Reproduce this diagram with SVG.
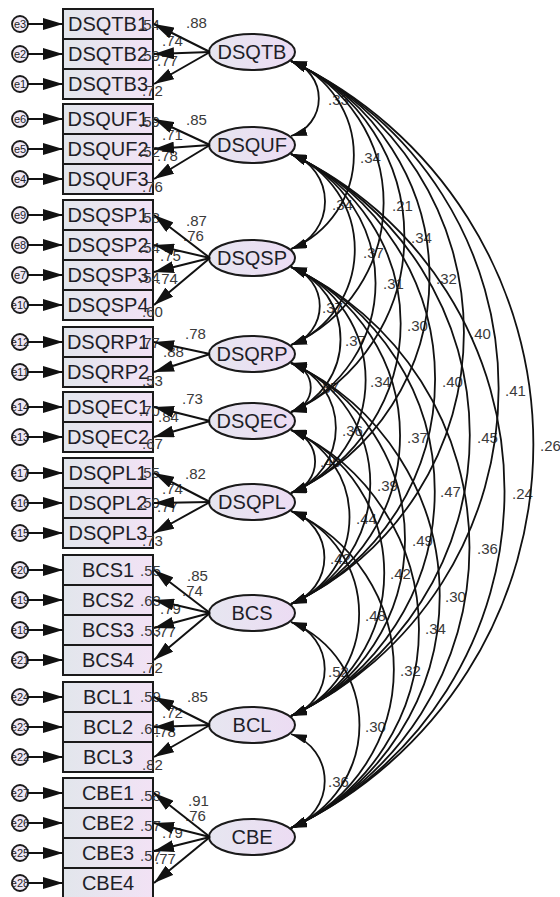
<svg xmlns="http://www.w3.org/2000/svg" width="560" height="897" viewBox="0 0 560 897">
<style>
.box{fill:url(#gb);stroke:#1a1a1a;stroke-width:2}
.lat{fill:url(#gl);stroke:#1a1a1a;stroke-width:2}
.err{fill:#efe8f4;stroke:#1a1a1a;stroke-width:1.8}
.t{font-family:"Liberation Sans",Arial,sans-serif;font-size:20px;fill:#1e1e28;text-anchor:middle}
.et{font-family:"Liberation Sans",Arial,sans-serif;font-size:11px;fill:#1e1e28;text-anchor:middle}
.n{font-family:"Liberation Sans",Arial,sans-serif;font-size:15px;fill:#3a3a3a}
.ar{stroke:#111;stroke-width:2;fill:none;marker-end:url(#ah)}
.cv{stroke:#111;stroke-width:1.8;fill:none;marker-start:url(#ahc);marker-end:url(#ahc)}
</style>
<defs>
<linearGradient id="gb" x1="0" y1="0" x2="1" y2="0"><stop offset="0" stop-color="#e2e6ec"/><stop offset="1" stop-color="#f2e2f5"/></linearGradient>
<linearGradient id="gl" x1="0" y1="0" x2="1" y2="0"><stop offset="0" stop-color="#e6e6f0"/><stop offset="1" stop-color="#ecdcf3"/></linearGradient>
<marker id="ah" viewBox="0 0 20 12" refX="20" refY="6" markerWidth="20" markerHeight="12" markerUnits="userSpaceOnUse" orient="auto"><path d="M0,0 L20,6 L0,12 z" fill="#111"/></marker>
<marker id="ahc" viewBox="0 0 16 9" refX="16" refY="4.5" markerWidth="16" markerHeight="9" markerUnits="userSpaceOnUse" orient="auto-start-reverse"><path d="M0,0 L16,4.5 L0,9 z" fill="#111"/></marker>
</defs>
<rect width="560" height="897" fill="#fff"/>

<!-- error terms -->
<g id="e3"><circle class="err" cx="20" cy="24" r="8"/><text class="et" x="20" y="28">e3</text></g>
<g id="e2"><circle class="err" cx="20" cy="54" r="8"/><text class="et" x="20" y="58">e2</text></g>
<g id="e1"><circle class="err" cx="20" cy="84" r="8"/><text class="et" x="20" y="88">e1</text></g>
<g id="e6"><circle class="err" cx="20" cy="119" r="8"/><text class="et" x="20" y="123">e6</text></g>
<g id="e5"><circle class="err" cx="20" cy="149" r="8"/><text class="et" x="20" y="153">e5</text></g>
<g id="e4"><circle class="err" cx="20" cy="179" r="8"/><text class="et" x="20" y="183">e4</text></g>
<g id="e9"><circle class="err" cx="20" cy="215" r="8"/><text class="et" x="20" y="219">e9</text></g>
<g id="e8"><circle class="err" cx="20" cy="245" r="8"/><text class="et" x="20" y="249">e8</text></g>
<g id="e7"><circle class="err" cx="20" cy="275" r="8"/><text class="et" x="20" y="279">e7</text></g>
<g id="e10"><circle class="err" cx="20" cy="305" r="8"/><text class="et" x="20" y="309">e10</text></g>
<g id="e12"><circle class="err" cx="20" cy="342" r="8"/><text class="et" x="20" y="346">e12</text></g>
<g id="e11"><circle class="err" cx="20" cy="372" r="8"/><text class="et" x="20" y="376">e11</text></g>
<g id="e14"><circle class="err" cx="20" cy="407" r="8"/><text class="et" x="20" y="411">e14</text></g>
<g id="e13"><circle class="err" cx="20" cy="437" r="8"/><text class="et" x="20" y="441">e13</text></g>
<g id="e17"><circle class="err" cx="20" cy="473" r="8"/><text class="et" x="20" y="477">e17</text></g>
<g id="e16"><circle class="err" cx="20" cy="503" r="8"/><text class="et" x="20" y="507">e16</text></g>
<g id="e15"><circle class="err" cx="20" cy="533" r="8"/><text class="et" x="20" y="537">e15</text></g>
<g id="e20"><circle class="err" cx="20" cy="570" r="8"/><text class="et" x="20" y="574">e20</text></g>
<g id="e19"><circle class="err" cx="20" cy="600" r="8"/><text class="et" x="20" y="604">e19</text></g>
<g id="e18"><circle class="err" cx="20" cy="630" r="8"/><text class="et" x="20" y="634">e18</text></g>
<g id="e21"><circle class="err" cx="20" cy="660" r="8"/><text class="et" x="20" y="664">e21</text></g>
<g id="e24"><circle class="err" cx="20" cy="697" r="8"/><text class="et" x="20" y="701">e24</text></g>
<g id="e23"><circle class="err" cx="20" cy="727" r="8"/><text class="et" x="20" y="731">e23</text></g>
<g id="e22"><circle class="err" cx="20" cy="757" r="8"/><text class="et" x="20" y="761">e22</text></g>
<g id="e27"><circle class="err" cx="20" cy="793" r="8"/><text class="et" x="20" y="797">e27</text></g>
<g id="e26"><circle class="err" cx="20" cy="823" r="8"/><text class="et" x="20" y="827">e26</text></g>
<g id="e25"><circle class="err" cx="20" cy="853" r="8"/><text class="et" x="20" y="857">e25</text></g>
<g id="e28"><circle class="err" cx="20" cy="883" r="8"/><text class="et" x="20" y="887">e28</text></g>

<!-- indicators -->
<g id="DSQTB1"><rect class="box" x="63" y="9" width="90" height="30"/><text class="t" x="108" y="31">DSQTB1</text><text class="n" x="139" y="30">.54</text></g>
<g id="DSQTB2"><rect class="box" x="63" y="39" width="90" height="30"/><text class="t" x="108" y="61">DSQTB2</text><text class="n" x="139" y="61">.59</text></g>
<g id="DSQTB3"><rect class="box" x="63" y="69" width="90" height="30"/><text class="t" x="108" y="91">DSQTB3</text><text class="n" x="142" y="96">.72</text></g>
<g id="DSQUF1"><rect class="box" x="63" y="104" width="90" height="30"/><text class="t" x="108" y="126">DSQUF1</text><text class="n" x="139" y="127">.59</text></g>
<g id="DSQUF2"><rect class="box" x="63" y="134" width="90" height="30"/><text class="t" x="108" y="156">DSQUF2</text><text class="n" x="139" y="157">.52</text></g>
<g id="DSQUF3"><rect class="box" x="63" y="164" width="90" height="30"/><text class="t" x="108" y="186">DSQUF3</text><text class="n" x="142" y="192">.76</text></g>
<g id="DSQSP1"><rect class="box" x="63" y="200" width="90" height="30"/><text class="t" x="108" y="222">DSQSP1</text><text class="n" x="139" y="223">.58</text></g>
<g id="DSQSP2"><rect class="box" x="63" y="230" width="90" height="30"/><text class="t" x="108" y="252">DSQSP2</text><text class="n" x="139" y="253">.54</text></g>
<g id="DSQSP3"><rect class="box" x="63" y="260" width="90" height="30"/><text class="t" x="108" y="282">DSQSP3</text><text class="n" x="139" y="283">.54</text></g>
<g id="DSQSP4"><rect class="box" x="63" y="290" width="90" height="30"/><text class="t" x="108" y="312">DSQSP4</text><text class="n" x="142" y="317">.60</text></g>
<g id="DSQRP1"><rect class="box" x="63" y="327" width="90" height="30"/><text class="t" x="108" y="349">DSQRP1</text><text class="n" x="139" y="348">.77</text></g>
<g id="DSQRP2"><rect class="box" x="63" y="357" width="90" height="30"/><text class="t" x="108" y="379">DSQRP2</text><text class="n" x="142" y="386">.53</text></g>
<g id="DSQEC1"><rect class="box" x="63" y="392" width="90" height="30"/><text class="t" x="108" y="414">DSQEC1</text><text class="n" x="139" y="416">.70</text></g>
<g id="DSQEC2"><rect class="box" x="63" y="422" width="90" height="30"/><text class="t" x="108" y="444">DSQEC2</text><text class="n" x="142" y="449">.67</text></g>
<g id="DSQPL1"><rect class="box" x="63" y="458" width="90" height="30"/><text class="t" x="108" y="480">DSQPL1</text><text class="n" x="139" y="478">.55</text></g>
<g id="DSQPL2"><rect class="box" x="63" y="488" width="90" height="30"/><text class="t" x="108" y="510">DSQPL2</text><text class="n" x="139" y="508">.59</text></g>
<g id="DSQPL3"><rect class="box" x="63" y="518" width="90" height="30"/><text class="t" x="108" y="540">DSQPL3</text><text class="n" x="142" y="546">.73</text></g>
<g id="BCS1"><rect class="box" x="63" y="555" width="90" height="30"/><text class="t" x="108" y="577">BCS1</text><text class="n" x="140" y="576">.55</text></g>
<g id="BCS2"><rect class="box" x="63" y="585" width="90" height="30"/><text class="t" x="108" y="607">BCS2</text><text class="n" x="140" y="606">.63</text></g>
<g id="BCS3"><rect class="box" x="63" y="615" width="90" height="30"/><text class="t" x="108" y="637">BCS3</text><text class="n" x="140" y="636">.53</text></g>
<g id="BCS4"><rect class="box" x="63" y="645" width="90" height="30"/><text class="t" x="108" y="667">BCS4</text><text class="n" x="142" y="673">.72</text></g>
<g id="BCL1"><rect class="box" x="63" y="682" width="90" height="30"/><text class="t" x="108" y="704">BCL1</text><text class="n" x="140" y="702">.59</text></g>
<g id="BCL2"><rect class="box" x="63" y="712" width="90" height="30"/><text class="t" x="108" y="734">BCL2</text><text class="n" x="140" y="734">.61</text></g>
<g id="BCL3"><rect class="box" x="63" y="742" width="90" height="30"/><text class="t" x="108" y="764">BCL3</text><text class="n" x="142" y="770">.82</text></g>
<g id="CBE1"><rect class="box" x="63" y="778" width="90" height="30"/><text class="t" x="108" y="800">CBE1</text><text class="n" x="140" y="801">.58</text></g>
<g id="CBE2"><rect class="box" x="63" y="808" width="90" height="30"/><text class="t" x="108" y="830">CBE2</text><text class="n" x="140" y="831">.57</text></g>
<g id="CBE3"><rect class="box" x="63" y="838" width="90" height="30"/><text class="t" x="108" y="860">CBE3</text><text class="n" x="140" y="861">.57</text></g>
<g id="CBE4"><rect class="box" x="63" y="868" width="90" height="30"/><text class="t" x="108" y="890">CBE4</text></g>

<!-- latent variables -->
<g id="DSQTB"><ellipse class="lat" cx="252" cy="52" rx="43" ry="18"/><text class="t" x="252" y="59">DSQTB</text></g>
<g id="DSQUF"><ellipse class="lat" cx="252" cy="145" rx="43" ry="18"/><text class="t" x="252" y="152">DSQUF</text></g>
<g id="DSQSP"><ellipse class="lat" cx="252" cy="258" rx="43" ry="18"/><text class="t" x="252" y="265">DSQSP</text></g>
<g id="DSQRP"><ellipse class="lat" cx="252" cy="354" rx="43" ry="18"/><text class="t" x="252" y="361">DSQRP</text></g>
<g id="DSQEC"><ellipse class="lat" cx="252" cy="421" rx="43" ry="18"/><text class="t" x="252" y="428">DSQEC</text></g>
<g id="DSQPL"><ellipse class="lat" cx="252" cy="502" rx="43" ry="18"/><text class="t" x="252" y="509">DSQPL</text></g>
<g id="BCS"><ellipse class="lat" cx="252" cy="613" rx="43" ry="18"/><text class="t" x="252" y="620">BCS</text></g>
<g id="BCL"><ellipse class="lat" cx="252" cy="725" rx="43" ry="18"/><text class="t" x="252" y="732">BCL</text></g>
<g id="CBE"><ellipse class="lat" cx="252" cy="837" rx="43" ry="18"/><text class="t" x="252" y="844">CBE</text></g>

<!-- loading labels -->
<g id="loading-labels">
<text class="n" x="186" y="28">.88</text><text class="n" x="162" y="46">.74</text><text class="n" x="157" y="66">.77</text>
<text class="n" x="186" y="125">.85</text><text class="n" x="162" y="140">.71</text><text class="n" x="157" y="161">.78</text>
<text class="n" x="186" y="226">.87</text><text class="n" x="183" y="241">.76</text><text class="n" x="160" y="261">.75</text><text class="n" x="157" y="284">.74</text>
<text class="n" x="185" y="339">.78</text><text class="n" x="163" y="357">.88</text>
<text class="n" x="182" y="404">.73</text><text class="n" x="158" y="422">.84</text>
<text class="n" x="185" y="479">.82</text><text class="n" x="162" y="494">.74</text><text class="n" x="157" y="512">.77</text>
<text class="n" x="187" y="581">.85</text><text class="n" x="182" y="596">.74</text><text class="n" x="160" y="614">.79</text><text class="n" x="155" y="637">.77</text>
<text class="n" x="187" y="702">.85</text><text class="n" x="162" y="718">.72</text><text class="n" x="155" y="737">.78</text>
<text class="n" x="188" y="806">.91</text><text class="n" x="185" y="821">.76</text><text class="n" x="162" y="838">.79</text><text class="n" x="155" y="864">.77</text>
</g>

<!-- covariance labels -->
<g id="covariance-labels">
<text class="n" x="328" y="105">.33</text>
<text class="n" x="360" y="163">.34</text>
<text class="n" x="332" y="210">.34</text>
<text class="n" x="392" y="211">.21</text>
<text class="n" x="411" y="243">.34</text>
<text class="n" x="363" y="258">.37</text>
<text class="n" x="436" y="284">.32</text>
<text class="n" x="383" y="289">.31</text>
<text class="n" x="322" y="313">.37</text>
<text class="n" x="407" y="331">.30</text>
<text class="n" x="470" y="339">.40</text>
<text class="n" x="345" y="346">.37</text>
<text class="n" x="370" y="387">.34</text>
<text class="n" x="442" y="387">.40</text>
<text class="n" x="505" y="396">.41</text>
<text class="n" x="318" y="393">.37</text>
<text class="n" x="342" y="436">.36</text>
<text class="n" x="407" y="443">.37</text>
<text class="n" x="477" y="443">.45</text>
<text class="n" x="540" y="451">.26</text>
<text class="n" x="320" y="467">.40</text>
<text class="n" x="377" y="491">.39</text>
<text class="n" x="440" y="497">.47</text>
<text class="n" x="512" y="499">.24</text>
<text class="n" x="356" y="524">.44</text>
<text class="n" x="412" y="546">.49</text>
<text class="n" x="477" y="554">.36</text>
<text class="n" x="330" y="564">.42</text>
<text class="n" x="390" y="579">.42</text>
<text class="n" x="445" y="602">.30</text>
<text class="n" x="365" y="621">.48</text>
<text class="n" x="425" y="634">.34</text>
<text class="n" x="328" y="677">.52</text>
<text class="n" x="400" y="676">.32</text>
<text class="n" x="365" y="732">.30</text>
<text class="n" x="328" y="787">.36</text>
</g>

<g id="connectors">
<!-- error arrows -->
<line class="ar" x1="28" y1="24" x2="63" y2="24"/><line class="ar" x1="28" y1="54" x2="63" y2="54"/><line class="ar" x1="28" y1="84" x2="63" y2="84"/>
<line class="ar" x1="28" y1="119" x2="63" y2="119"/><line class="ar" x1="28" y1="149" x2="63" y2="149"/><line class="ar" x1="28" y1="179" x2="63" y2="179"/>
<line class="ar" x1="28" y1="215" x2="63" y2="215"/><line class="ar" x1="28" y1="245" x2="63" y2="245"/><line class="ar" x1="28" y1="275" x2="63" y2="275"/><line class="ar" x1="28" y1="305" x2="63" y2="305"/>
<line class="ar" x1="28" y1="342" x2="63" y2="342"/><line class="ar" x1="28" y1="372" x2="63" y2="372"/>
<line class="ar" x1="28" y1="407" x2="63" y2="407"/><line class="ar" x1="28" y1="437" x2="63" y2="437"/>
<line class="ar" x1="28" y1="473" x2="63" y2="473"/><line class="ar" x1="28" y1="503" x2="63" y2="503"/><line class="ar" x1="28" y1="533" x2="63" y2="533"/>
<line class="ar" x1="28" y1="570" x2="63" y2="570"/><line class="ar" x1="28" y1="600" x2="63" y2="600"/><line class="ar" x1="28" y1="630" x2="63" y2="630"/><line class="ar" x1="28" y1="660" x2="63" y2="660"/>
<line class="ar" x1="28" y1="697" x2="63" y2="697"/><line class="ar" x1="28" y1="727" x2="63" y2="727"/><line class="ar" x1="28" y1="757" x2="63" y2="757"/>
<line class="ar" x1="28" y1="793" x2="63" y2="793"/><line class="ar" x1="28" y1="823" x2="63" y2="823"/><line class="ar" x1="28" y1="853" x2="63" y2="853"/><line class="ar" x1="28" y1="883" x2="63" y2="883"/>
<!-- loadings -->
<line class="ar" x1="210" y1="52" x2="154" y2="24"/><line class="ar" x1="210" y1="52" x2="154" y2="54"/><line class="ar" x1="210" y1="52" x2="154" y2="84"/>
<line class="ar" x1="210" y1="145" x2="154" y2="119"/><line class="ar" x1="210" y1="145" x2="154" y2="149"/><line class="ar" x1="210" y1="145" x2="154" y2="179"/>
<line class="ar" x1="210" y1="258" x2="154" y2="215"/><line class="ar" x1="210" y1="258" x2="154" y2="245"/><line class="ar" x1="210" y1="258" x2="154" y2="272"/><line class="ar" x1="210" y1="258" x2="154" y2="305"/>
<line class="ar" x1="210" y1="354" x2="154" y2="342"/><line class="ar" x1="210" y1="354" x2="154" y2="372"/>
<line class="ar" x1="210" y1="421" x2="154" y2="407"/><line class="ar" x1="210" y1="421" x2="154" y2="437"/>
<line class="ar" x1="210" y1="502" x2="154" y2="473"/><line class="ar" x1="210" y1="502" x2="154" y2="503"/><line class="ar" x1="210" y1="502" x2="154" y2="533"/>
<line class="ar" x1="210" y1="613" x2="154" y2="570"/><line class="ar" x1="210" y1="613" x2="154" y2="600"/><line class="ar" x1="210" y1="613" x2="154" y2="628"/><line class="ar" x1="210" y1="613" x2="154" y2="660"/>
<line class="ar" x1="210" y1="725" x2="154" y2="697"/><line class="ar" x1="210" y1="725" x2="154" y2="727"/><line class="ar" x1="210" y1="725" x2="154" y2="757"/>
<line class="ar" x1="210" y1="837" x2="154" y2="793"/><line class="ar" x1="210" y1="837" x2="154" y2="823"/><line class="ar" x1="210" y1="837" x2="154" y2="851"/><line class="ar" x1="210" y1="837" x2="154" y2="883"/>
<!-- covariances -->
<path class="cv" d="M291,61 A39.18,39.18 0 0 1 291,136"/>
<path class="cv" d="M291,61 A101.71,101.71 0 0 1 291,249"/>
<path class="cv" d="M291,61 A155.16,155.16 0 0 1 291,345"/>
<path class="cv" d="M291,61 A192.51,192.51 0 0 1 291,412"/>
<path class="cv" d="M291,61 A237.68,237.68 0 0 1 291,493"/>
<path class="cv" d="M291,61 A299.61,299.61 0 0 1 291,604"/>
<path class="cv" d="M291,61 A362.10,362.10 0 0 1 291,716"/>
<path class="cv" d="M291,61 A424.60,424.60 0 0 1 291,828"/>
<path class="cv" d="M291,154 A50.17,50.17 0 0 1 291,249"/>
<path class="cv" d="M291,154 A103.38,103.38 0 0 1 291,345"/>
<path class="cv" d="M291,154 A140.68,140.68 0 0 1 291,412"/>
<path class="cv" d="M291,154 A185.82,185.82 0 0 1 291,493"/>
<path class="cv" d="M291,154 A247.72,247.72 0 0 1 291,604"/>
<path class="cv" d="M291,154 A310.21,310.21 0 0 1 291,716"/>
<path class="cv" d="M291,154 A372.70,372.70 0 0 1 291,828"/>
<path class="cv" d="M291,267 A40.82,40.82 0 0 1 291,345"/>
<path class="cv" d="M291,267 A77.83,77.83 0 0 1 291,412"/>
<path class="cv" d="M291,267 A122.86,122.86 0 0 1 291,493"/>
<path class="cv" d="M291,267 A184.71,184.71 0 0 1 291,604"/>
<path class="cv" d="M291,267 A247.17,247.17 0 0 1 291,716"/>
<path class="cv" d="M291,267 A309.65,309.65 0 0 1 291,828"/>
<path class="cv" d="M291,363 A25.07,25.07 0 0 1 291,412"/>
<path class="cv" d="M291,363 A69.51,69.51 0 0 1 291,493"/>
<path class="cv" d="M291,363 A131.21,131.21 0 0 1 291,604"/>
<path class="cv" d="M291,363 A193.63,193.63 0 0 1 291,716"/>
<path class="cv" d="M291,363 A256.09,256.09 0 0 1 291,828"/>
<path class="cv" d="M291,430 A32.63,32.63 0 0 1 291,493"/>
<path class="cv" d="M291,430 A93.93,93.93 0 0 1 291,604"/>
<path class="cv" d="M291,430 A156.28,156.28 0 0 1 291,716"/>
<path class="cv" d="M291,430 A218.72,218.72 0 0 1 291,828"/>
<path class="cv" d="M291,511 A49.06,49.06 0 0 1 291,604"/>
<path class="cv" d="M291,511 A111.17,111.17 0 0 1 291,716"/>
<path class="cv" d="M291,511 A173.56,173.56 0 0 1 291,828"/>
<path class="cv" d="M291,622 A49.61,49.61 0 0 1 291,716"/>
<path class="cv" d="M291,622 A111.72,111.72 0 0 1 291,828"/>
<path class="cv" d="M291,734 A49.61,49.61 0 0 1 291,828"/>
</g>
</svg>
